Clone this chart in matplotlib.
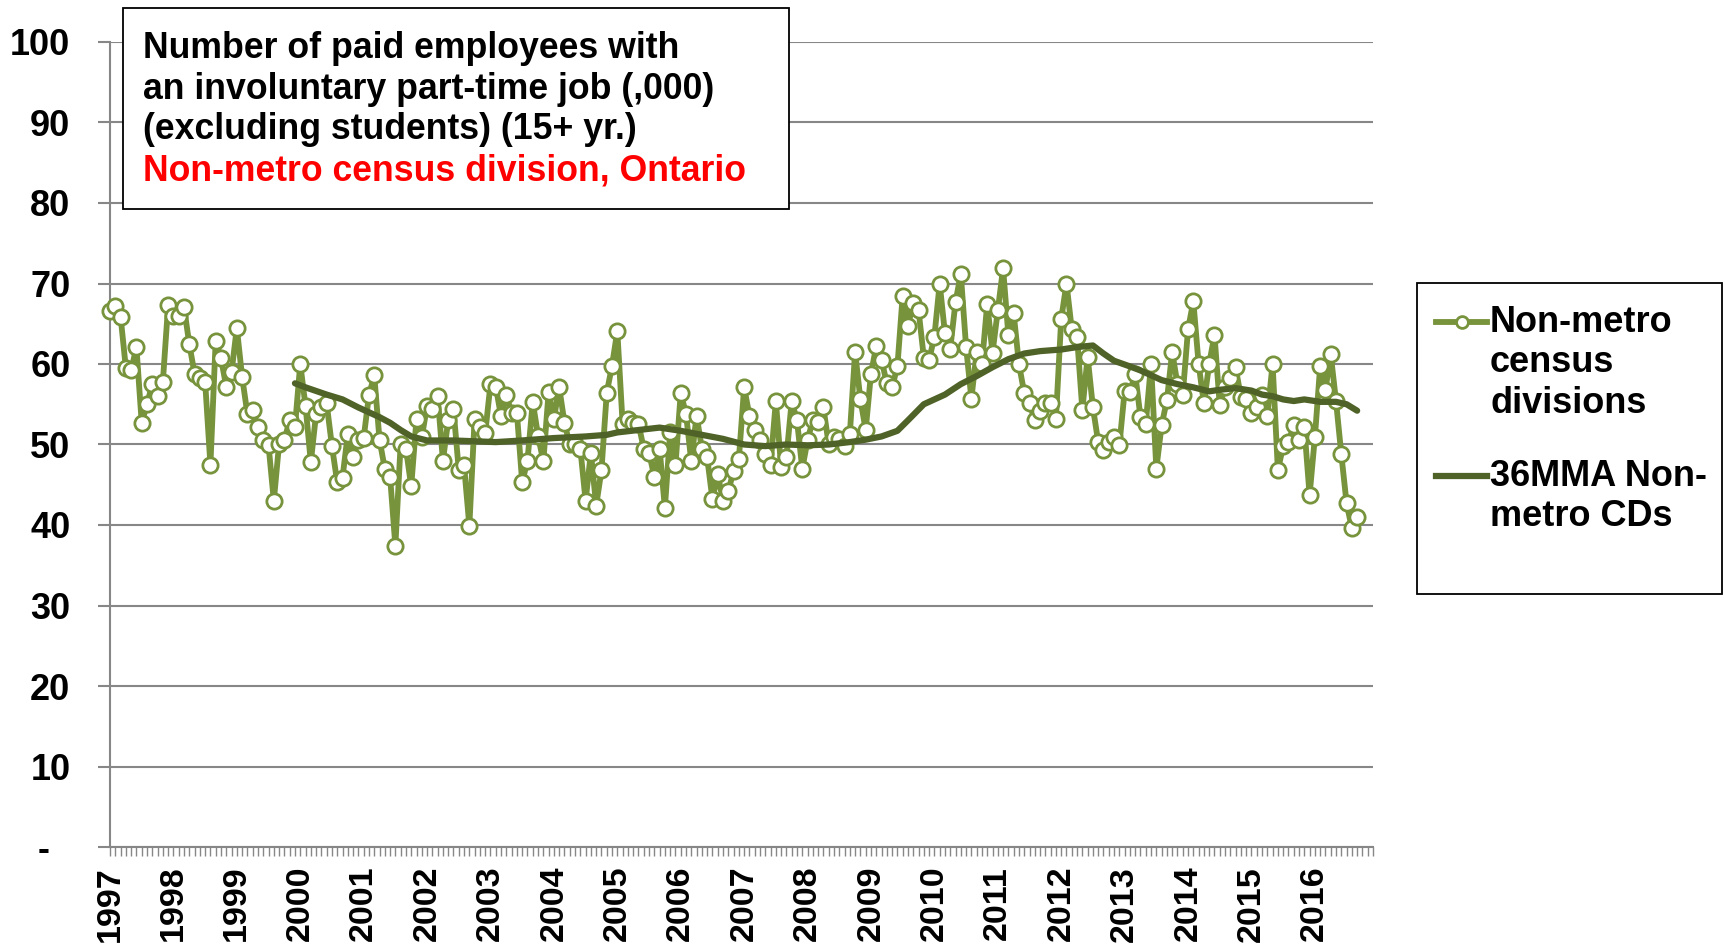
import numpy as np
import matplotlib
matplotlib.use("Agg")
import matplotlib.pyplot as plt
from matplotlib.patches import Rectangle
from matplotlib.lines import Line2D

# ── Data (monthly, Jan 1997 onward, thousands) ────────────────────────────────
years = list(range(1997, 2017))

nonmetro = [
    66.6, 67.2, 65.9, 59.5, 59.2, 62.1, 52.7, 55.0, 57.5, 56.0, 57.8, 67.3,   # 1997
    66.0, 66.0, 67.1, 62.5, 58.8, 58.2, 57.8, 47.5, 62.9, 60.7, 57.2, 59.0,   # 1998
    64.5, 58.4, 53.8, 54.3, 52.2, 50.5, 49.9, 43.0, 50.1, 50.5, 53.1, 52.2,   # 1999
    60.0, 54.8, 47.8, 53.8, 54.6, 55.1, 49.8, 45.3, 45.9, 51.3, 48.5, 50.5,   # 2000
    50.8, 56.1, 58.6, 50.6, 47.0, 46.0, 37.4, 50.1, 49.5, 44.8, 53.2, 50.9,   # 2001
    54.8, 54.4, 56.0, 48.0, 53.0, 54.4, 46.8, 47.4, 39.9, 53.2, 52.2, 51.4,   # 2002
    57.5, 57.2, 53.5, 56.1, 53.9, 53.9, 45.3, 48.0, 55.3, 51.1, 47.9, 56.5,   # 2003
    53.2, 57.1, 52.7, 50.0, 50.0, 49.5, 43.0, 49.0, 42.4, 46.8, 56.4, 59.8,   # 2004
    64.1, 52.6, 53.2, 52.7, 52.6, 49.5, 49.0, 46.0, 49.5, 42.1, 51.5, 47.4,   # 2005
    56.4, 53.8, 47.9, 53.6, 49.5, 48.4, 43.2, 46.3, 43.0, 44.2, 46.7, 48.2,   # 2006
    57.1, 53.6, 51.8, 50.6, 48.8, 47.5, 55.4, 47.2, 48.4, 55.4, 53.0, 47.0,   # 2007
    50.5, 53.1, 52.8, 54.6, 50.0, 50.9, 50.7, 49.8, 51.3, 61.5, 55.6, 51.8,   # 2008
    58.8, 62.2, 60.5, 57.6, 57.1, 59.7, 68.5, 64.7, 67.6, 66.7, 60.8, 60.5,   # 2009
    63.4, 70.0, 63.8, 61.9, 67.7, 71.2, 62.1, 55.7, 61.5, 60.0, 67.5, 61.4,   # 2010
    66.7, 71.9, 63.6, 66.3, 60.0, 56.4, 55.1, 53.0, 54.2, 55.1, 55.1, 53.2,   # 2011
    65.6, 70.0, 64.3, 63.4, 54.3, 60.9, 54.6, 50.3, 49.3, 50.3, 50.9, 49.9,   # 2012
    56.6, 56.5, 58.8, 53.4, 52.6, 60.0, 47.0, 52.4, 55.5, 61.5, 57.5, 56.2,   # 2013
    64.3, 67.8, 60.0, 55.1, 60.0, 63.6, 54.9, 57.1, 58.2, 59.6, 55.9, 55.7,   # 2014
    53.9, 54.7, 56.1, 53.6, 60.0, 46.8, 49.8, 50.3, 52.4, 50.5, 52.2, 43.7,   # 2015
    50.9, 59.7, 56.8, 61.2, 55.4, 48.8, 42.7, 39.6, 41.0,                     # 2016
]

# 36-month moving average, read at selected months (index from Jan 1997)
ma_month = [35, 37, 41, 44, 47, 49, 51, 53, 55, 57, 60, 65, 69, 73, 78, 84,
            90, 94, 96, 100, 104, 108, 112, 116, 120, 124, 128, 132, 136, 140,
            143, 146, 149, 151, 154, 158, 161, 164, 167, 170, 173, 176, 180,
            183, 186, 188, 190, 193, 195, 197, 199, 202, 205, 208, 210, 213,
            216, 218, 220, 222, 224, 226, 229, 232, 234, 236]
ma_value = [57.6, 57.1, 56.2, 55.6, 54.6, 54.0, 53.4, 52.7, 51.8, 51.0, 50.5,
            50.5, 50.4, 50.3, 50.5, 50.8, 51.0, 51.2, 51.5, 51.8, 52.1, 51.7,
            51.2, 50.7, 50.0, 49.8, 50.0, 49.9, 50.0, 50.3, 50.6, 51.0, 51.7,
            53.0, 55.0, 56.2, 57.5, 58.5, 59.6, 60.6, 61.3, 61.6, 61.8, 62.1,
            62.3, 61.3, 60.4, 59.7, 59.2, 58.6, 58.0, 57.5, 57.1, 56.6, 56.8,
            57.0, 56.7, 56.2, 56.0, 55.6, 55.4, 55.6, 55.3, 55.3, 55.0, 54.2]

title_lines = ["Number of paid employees with",
               "an involuntary part-time job (,000)",
               "(excluding students) (15+ yr.)"]
title_red = "Non-metro census division, Ontario"
legend_labels = ["Non-metro\ncensus\ndivisions", "36MMA Non-\nmetro CDs"]

# ── Style ─────────────────────────────────────────────────────────────────────
plt.rcParams["font.family"] = ["Liberation Sans", "DejaVu Sans"]
plt.rcParams["font.weight"] = "bold"
FS = 26          # y ticks + legend
FS_X = 24.5      # year labels
FS_TITLE = 25.7
green = "#77933C"
dark = "#4F6228"
grey = "#878787"

W, H = 1725, 949
fig = plt.figure(figsize=(W / 100, H / 100), dpi=100)
fig.patch.set_facecolor("white")

# axes placed in pixel terms of the reference
x0, x1, y0, y1 = 110, 1373, 847, 42
ax = fig.add_axes([x0 / W, 1 - y0 / H, (x1 - x0) / W, (y0 - y1) / H])

months = np.arange(len(nonmetro))
ax.plot(months, nonmetro, color=green, lw=4.2, marker="o", ms=11,
        mfc="white", mec=green, mew=2, zorder=3, clip_on=False)
ax.plot(ma_month, ma_value, color=dark, lw=4.5, solid_capstyle="round", zorder=4)

ax.set_xlim(0, 239)
ax.set_ylim(0, 100)
ax.set_yticks(range(0, 101, 10))
ax.set_yticklabels(["-  "] + [str(v) for v in range(10, 101, 10)])
ax.set_xticks(np.arange(0, 240, 12))
ax.set_xticklabels([str(y) for y in years], rotation=90)
ax.set_xticks(np.arange(0, 240), minor=True)

ax.yaxis.grid(True, color=grey, lw=1.5)
ax.set_axisbelow(True)
for s in ["top", "right"]:
    ax.spines[s].set_visible(False)
for s in ["left", "bottom"]:
    ax.spines[s].set_color(grey)
    ax.spines[s].set_linewidth(1.5)

ax.tick_params(axis="y", length=8.5, width=1.5, color=grey, pad=20,
               labelsize=FS)
ax.tick_params(axis="x", which="both", length=6.5, width=1, color=grey,
               direction="out", pad=7, labelsize=FS_X)
for lab in ax.get_xticklabels() + ax.get_yticklabels():
    lab.set_fontweight("bold")

# ── Title box ─────────────────────────────────────────────────────────────────
fig.add_artist(Rectangle((123 / W, 1 - 209 / H), 666 / W, 201 / H,
                         transform=fig.transFigure, facecolor="white",
                         edgecolor="black", lw=1.3, zorder=5))
for i, line in enumerate(title_lines + [title_red]):
    fig.text(143 / W, 1 - (48.4 + 40.7 * i) / H, line, fontsize=FS_TITLE,
             fontweight="bold", va="center", ha="left",
             color="red" if line == title_red else "black", zorder=6)

# ── Legend box ────────────────────────────────────────────────────────────────
fig.add_artist(Rectangle((1417 / W, 1 - 594 / H), 305 / W, 311 / H,
                         transform=fig.transFigure, facecolor="white",
                         edgecolor="black", lw=1.3, zorder=5))
entry_y = [322, 476]
styles = [dict(color=green, lw=4.2), dict(color=dark, lw=4.5)]
for yy, lab, st in zip(entry_y, legend_labels, styles):
    fig.add_artist(Line2D([1436 / W, 1487 / W], [1 - yy / H, 1 - yy / H],
                          transform=fig.transFigure, zorder=6, **st))
    for j, part in enumerate(lab.split("\n")):
        fig.text(1490 / W, 1 - (yy + 40.7 * j) / H, part, fontsize=FS,
                 fontweight="bold", va="center", ha="left", zorder=6)
fig.add_artist(Line2D([1461.5 / W], [1 - entry_y[0] / H], transform=fig.transFigure,
                      marker="o", ms=8.5, mfc="white", mec=green, mew=2, zorder=7))

fig.savefig("out.png", dpi=100)
